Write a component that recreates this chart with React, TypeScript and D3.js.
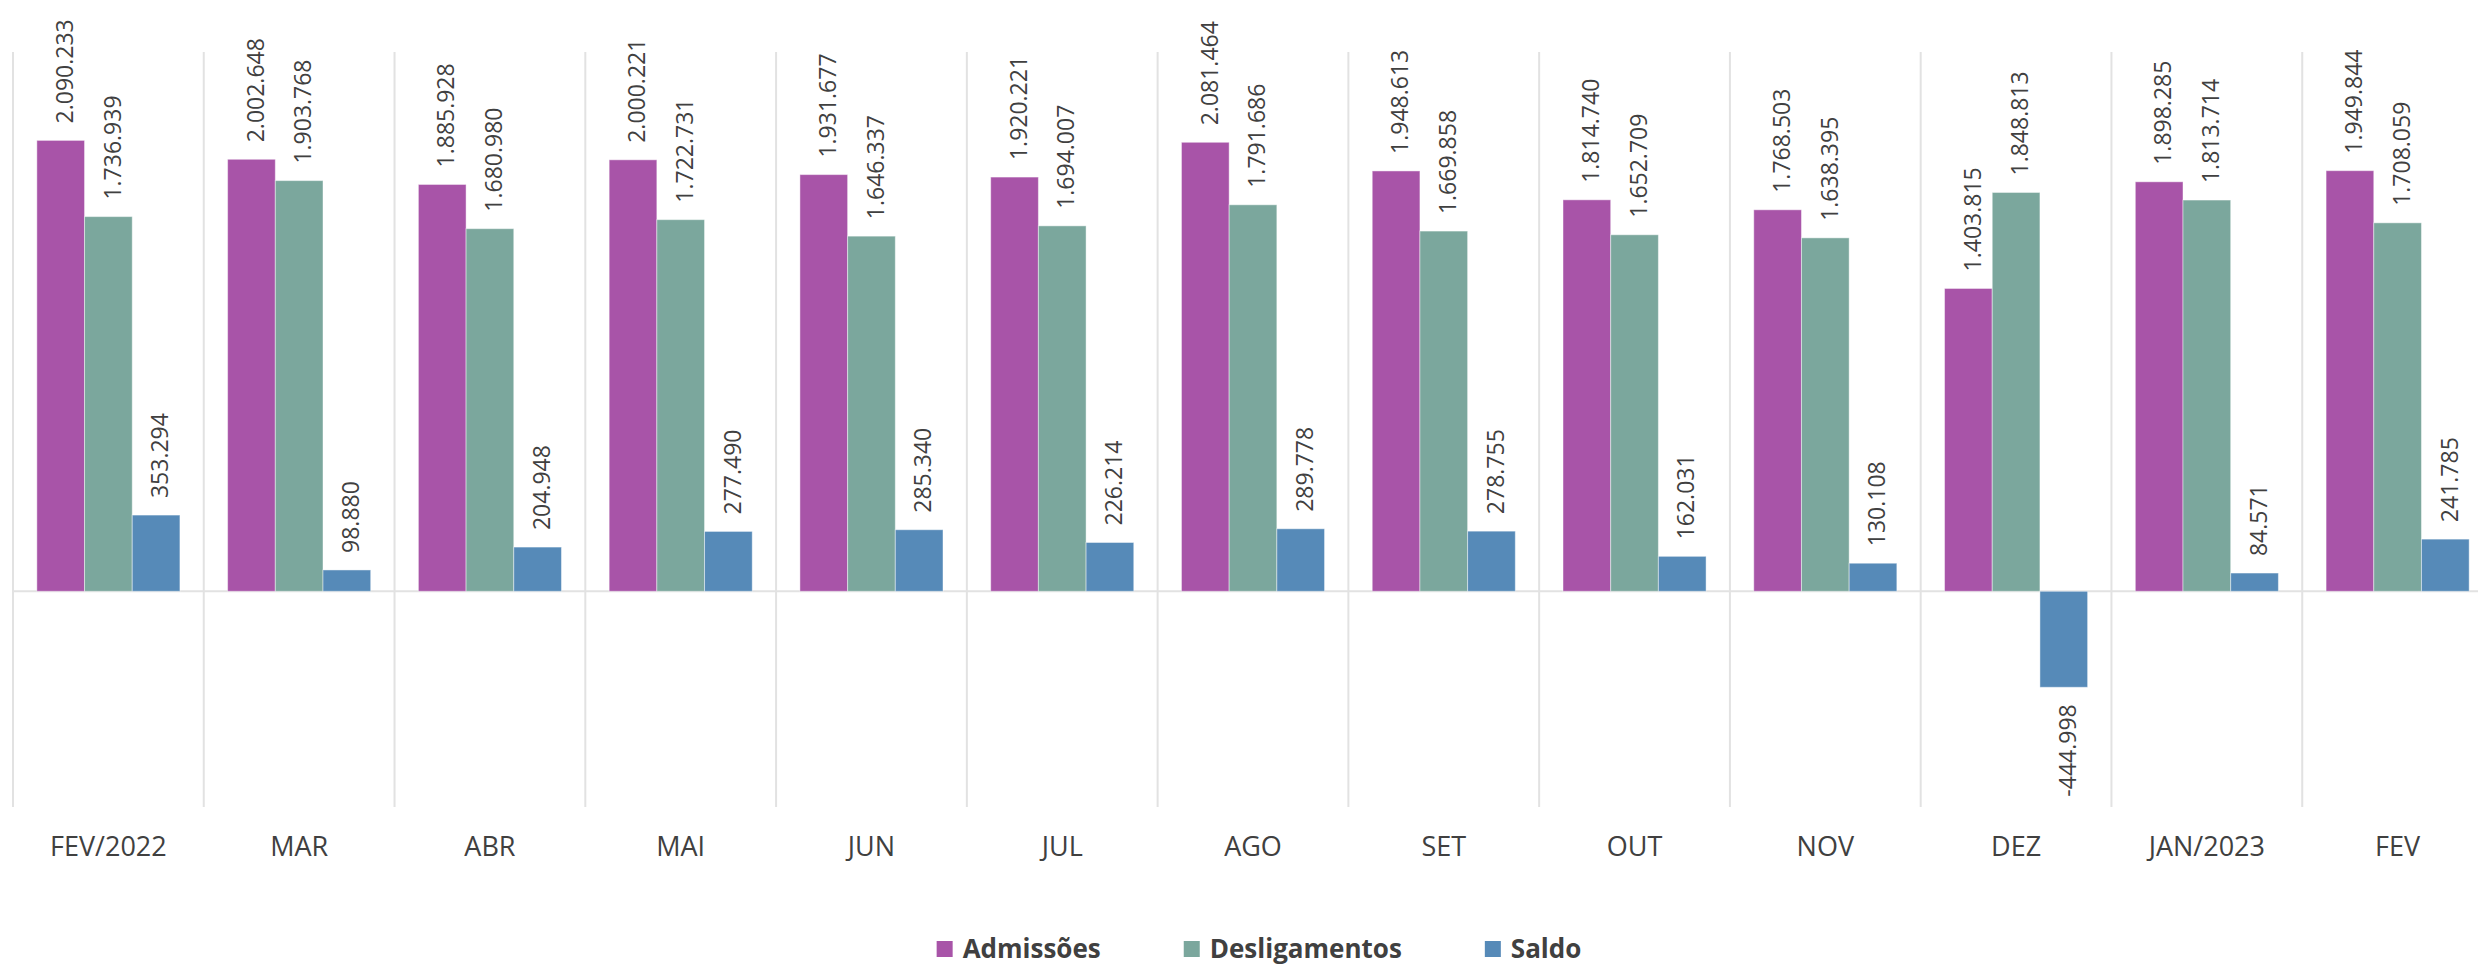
import React, { useLayoutEffect, useRef, useState } from 'react';
import * as d3 from 'd3';

// --- data ---
const months = ['FEV/2022', 'MAR', 'ABR', 'MAI', 'JUN', 'JUL', 'AGO', 'SET', 'OUT', 'NOV', 'DEZ', 'JAN/2023', 'FEV'];
const admissoes = [2090233, 2002648, 1885928, 2000221, 1931677, 1920221, 2081464, 1948613, 1814740, 1768503, 1403815, 1898285, 1949844];
const desligamentos = [1736939, 1903768, 1680980, 1722731, 1646337, 1694007, 1791686, 1669858, 1652709, 1638395, 1848813, 1813714, 1708059];
const saldo = [353294, 98880, 204948, 277490, 285340, 226214, 289778, 278755, 162031, 130108, -444998, 84571, 241785];
const seriesNames = ['Admissões', 'Desligamentos', 'Saldo'];
const yDomain = [-1000000, 2500000];

const WIDTH = 2478;
const HEIGHT = 968;
const PLOT = { left: 13, right: 2493, top: 52, bottom: 807 };
const COLORS = ['#A854A8', '#7BA79D', '#568AB8'];
const FONT = "'Open Sans', 'Noto Sans', sans-serif";
const TEXT = '#404040';
const GRID = '#e2e2e2';

const ptBR = d3.formatLocale({ decimal: ',', thousands: '.', grouping: [3], currency: ['R$', ''], minus: '-' });
const fmt = ptBR.format(',d');

const App: React.FC = () => {
  const legendRefs = useRef<(SVGTextElement | null)[]>([]);
  const [legendW, setLegendW] = useState<number[]>([137, 192, 69]);

  useLayoutEffect(() => {
    const w = legendRefs.current.map(t => (t ? t.getComputedTextLength() : 0));
    if (w.every(v => v > 0)) setLegendW(w);
  }, []);

  const x = d3.scaleBand<string>().domain(months).range([PLOT.left, PLOT.right]).padding(0);
  const xs = d3.scaleBand<string>().domain(seriesNames).range([0, x.bandwidth()]).paddingInner(0).paddingOuter(0.5);
  const y = d3.scaleLinear().domain(yDomain).range([PLOT.bottom, PLOT.top]);
  const y0 = y(0);

  const series = [admissoes, desligamentos, saldo];
  const labelSize = 23;

  // legend layout
  const sq = 16, sqGap = 10, itemGap = 83;
  const legendBase = 958;
  const totalLegend = legendW.reduce((a, w) => a + sq + sqGap + w, 0) + itemGap * (legendW.length - 1);
  let lx = 1259 - totalLegend / 2;
  const legendX = legendW.map(w => {
    const cur = lx;
    lx += sq + sqGap + w + itemGap;
    return cur;
  });

  return (
    <svg
      width={WIDTH}
      height={HEIGHT}
      viewBox={`0 0 ${WIDTH} ${HEIGHT}`}
      style={{ position: 'absolute', left: 0, top: 0, background: '#fff', fontFamily: FONT }}
    >
      {/* category separators */}
      {months.map(m => (
        <line key={m} x1={x(m)} x2={x(m)} y1={PLOT.top} y2={PLOT.bottom} stroke={GRID} strokeWidth={2} />
      ))}
      <line x1={PLOT.left} x2={PLOT.right} y1={y0} y2={y0} stroke={GRID} strokeWidth={2} />

      {/* bars */}
      {series.map((vals, si) => (
        <g key={seriesNames[si]}>
          {vals.map((v, i) => {
            const bx = (x(months[i]) ?? 0) + (xs(seriesNames[si]) ?? 0);
            const top = Math.min(y(v), y0);
            return (
              <rect
                key={i}
                x={bx}
                y={top}
                width={xs.bandwidth()}
                height={Math.abs(y(v) - y0)}
                fill={COLORS[si]}
                stroke="#ffffff"
                strokeOpacity={0.45}
                strokeWidth={1}
              />
            );
          })}
        </g>
      ))}

      {/* data labels */}
      {series.map((vals, si) => (
        <g key={'l' + seriesNames[si]} fontSize={labelSize} fill={TEXT}>
          {vals.map((v, i) => {
            const cx = (x(months[i]) ?? 0) + (xs(seriesNames[si]) ?? 0) + xs.bandwidth() / 2;
            const tx = cx + 4 + 0.357 * labelSize;
            const ty = v >= 0 ? y(v) - 17 : y(v) + 17;
            return (
              <text
                key={i}
                transform={`translate(${tx},${ty}) rotate(-90)`}
                textAnchor={v >= 0 ? 'start' : 'end'}
              >
                {fmt(v)}
              </text>
            );
          })}
        </g>
      ))}

      {/* category labels */}
      {months.map(m => (
        <text key={'t' + m} x={(x(m) ?? 0) + x.bandwidth() / 2} y={856} textAnchor="middle" fontSize={27} fill={TEXT}>
          {m}
        </text>
      ))}

      {/* legend */}
      {seriesNames.map((s, i) => (
        <g key={'lg' + s}>
          <rect x={legendX[i]} y={legendBase - 17} width={sq} height={sq} fill={COLORS[i]} />
          <text
            ref={el => { legendRefs.current[i] = el; }}
            x={legendX[i] + sq + sqGap}
            y={legendBase}
            fontSize={26}
            fontWeight="bold"
            fill={TEXT}
          >
            {s}
          </text>
        </g>
      ))}
    </svg>
  );
};

export default App;
